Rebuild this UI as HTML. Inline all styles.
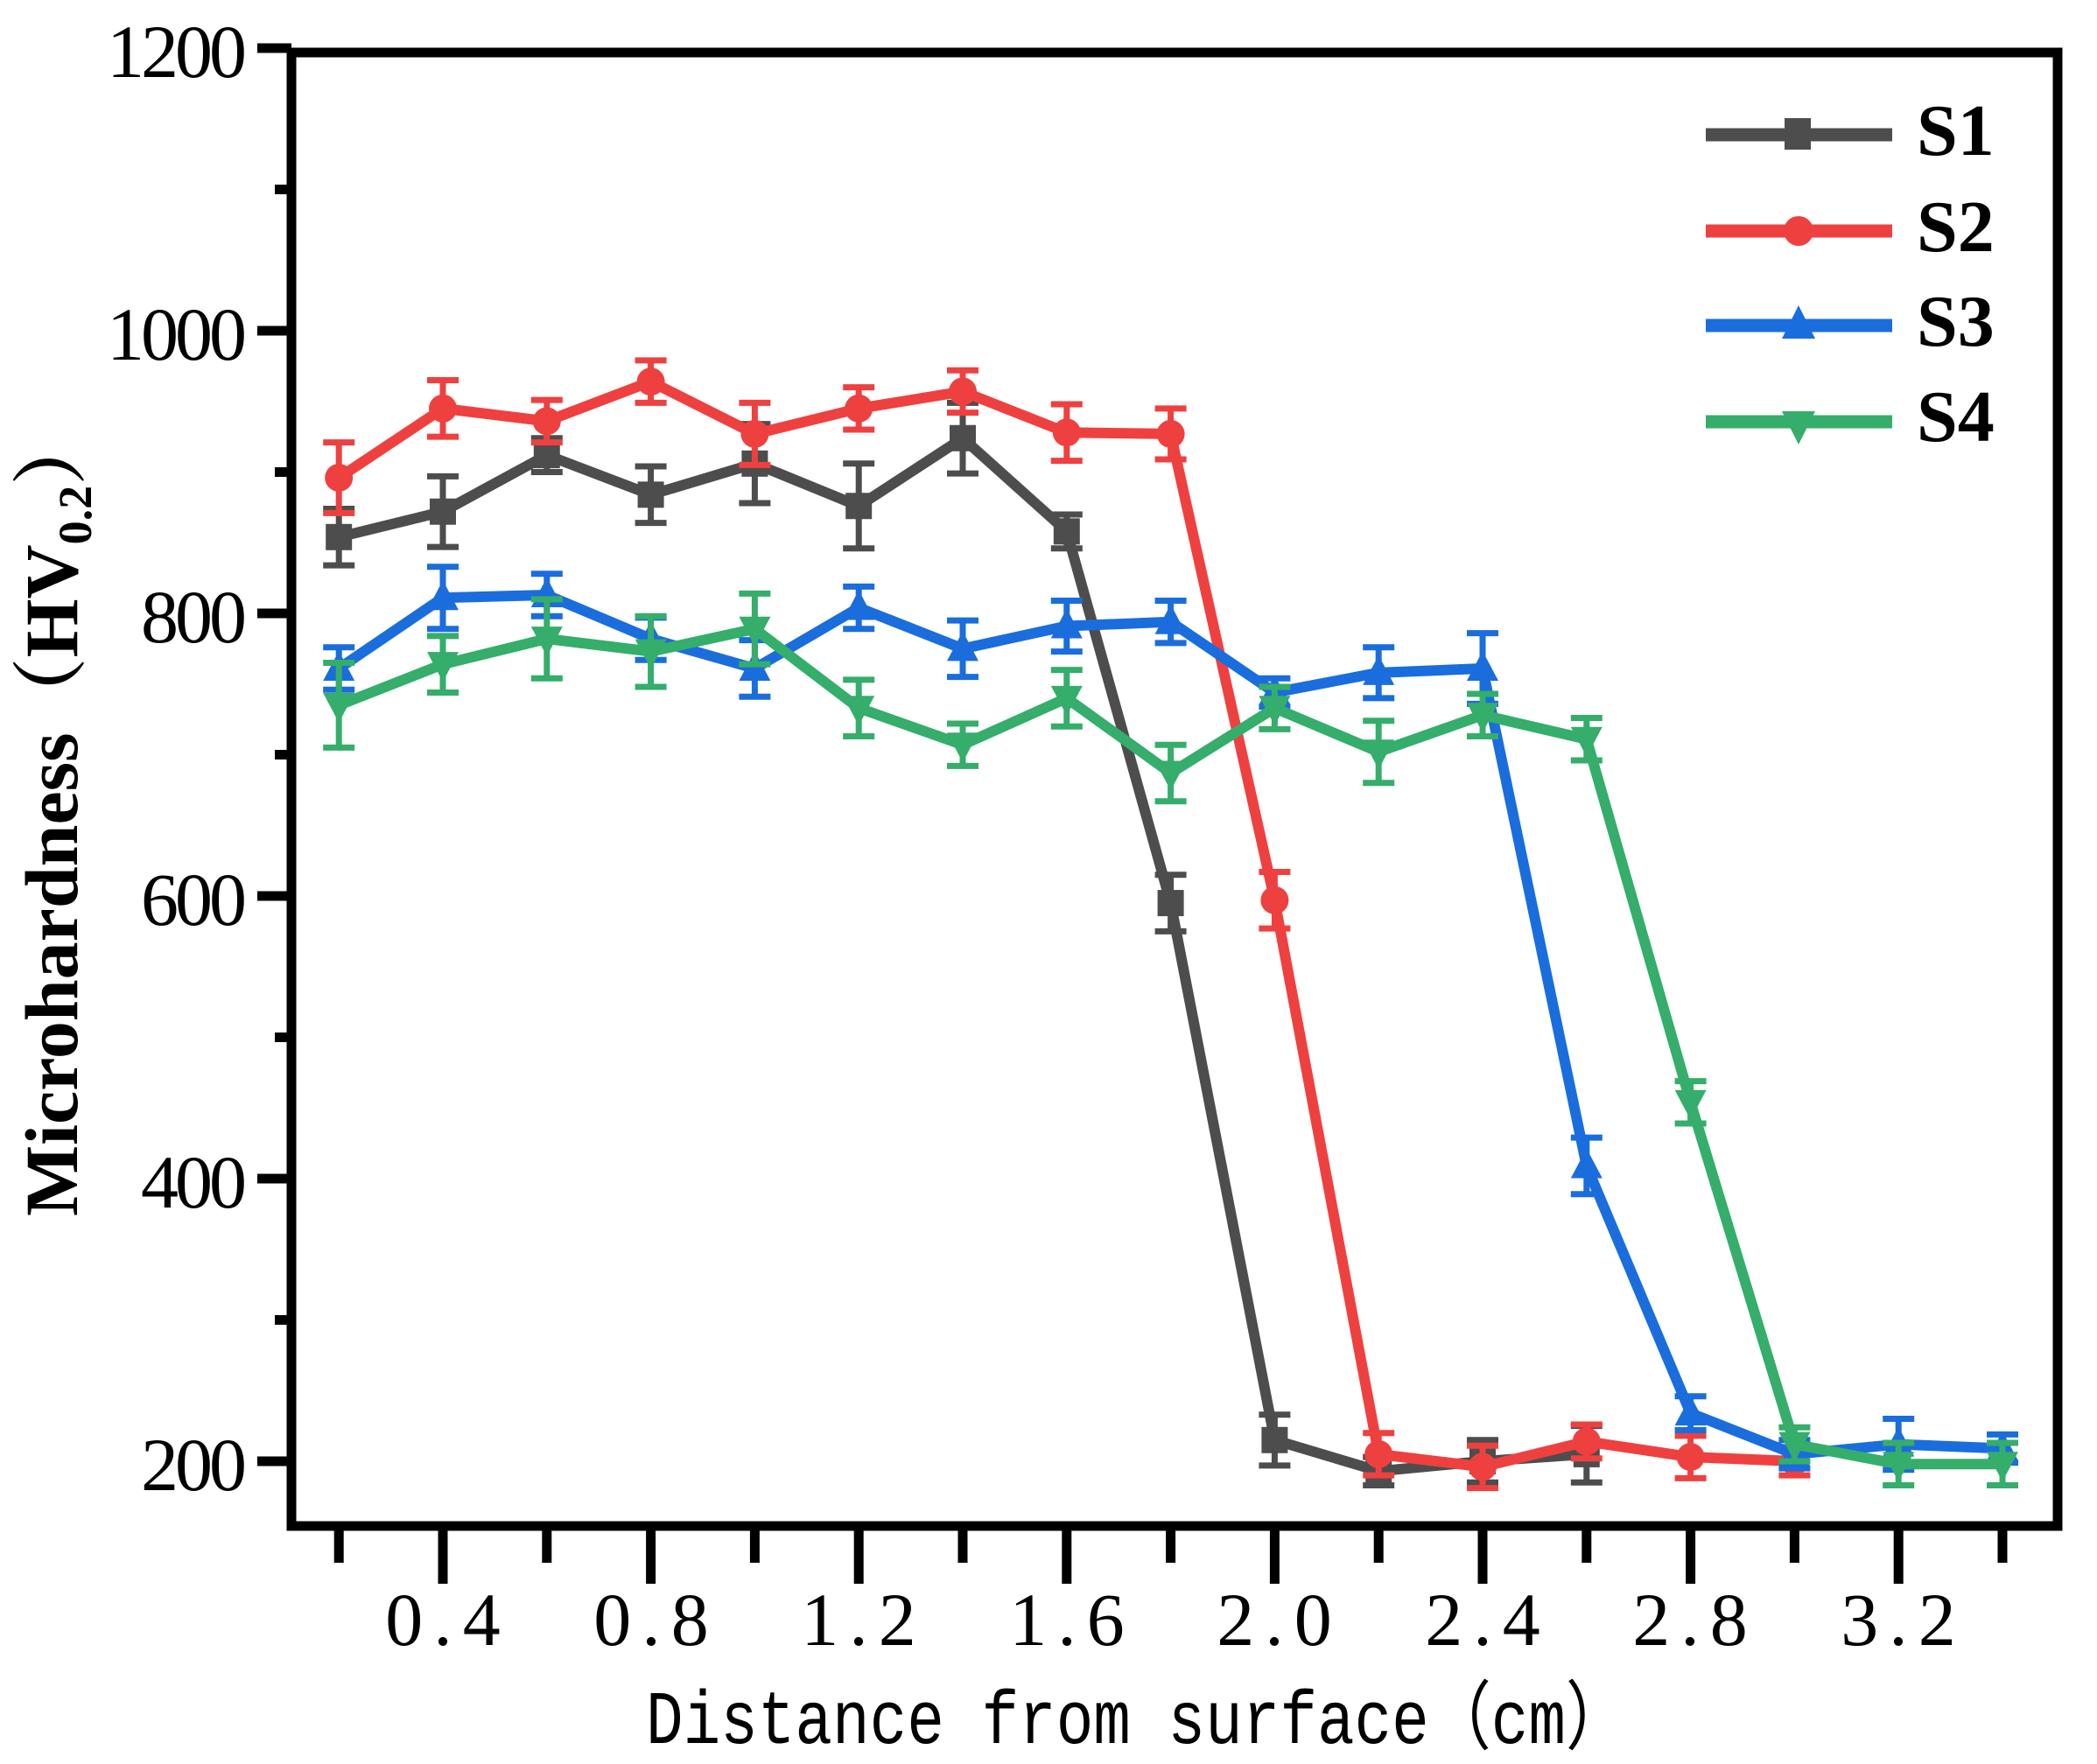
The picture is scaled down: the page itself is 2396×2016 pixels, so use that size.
<!DOCTYPE html>
<html><head><meta charset="utf-8"><style>
html,body{margin:0;padding:0;background:#fff;}
svg{display:block;}
</style></head><body>
<svg id="s" width="2396" height="2016" viewBox="0 0 2396 2016" xmlns="http://www.w3.org/2000/svg">
<rect width="2396" height="2016" fill="#fff"/>
<g id="data"></g>
<rect x="333" y="60" width="2018" height="1684" fill="none" stroke="#000" stroke-width="11"/>
<g stroke="#000" stroke-width="11" id="ticks"></g>
<g font-family="Liberation Serif, serif" font-size="86" fill="#000" text-anchor="end" letter-spacing="-4">
<text x="278" y="88">1200</text>
<text x="278" y="411">1000</text>
<text x="278" y="734">800</text>
<text x="278" y="1057">600</text>
<text x="278" y="1380">400</text>
<text x="278" y="1703">200</text>
</g>
<g font-family="Liberation Serif, serif" font-size="86" fill="#000" text-anchor="middle" letter-spacing="12">
<text x="512" y="1880">0.4</text>
<text x="750" y="1880">0.8</text>
<text x="987" y="1880">1.2</text>
<text x="1225" y="1880">1.6</text>
<text x="1462" y="1880">2.0</text>
<text x="1700" y="1880">2.4</text>
<text x="1937" y="1880">2.8</text>
<text x="2175" y="1880">3.2</text>
</g>
<text x="738" y="1992" font-family="Liberation Mono, monospace" font-size="86" textLength="1122" lengthAdjust="spacingAndGlyphs" fill="#000">Distance from surface（cm）</text>
<text transform="translate(88,1390) rotate(-90)" font-family="Liberation Serif, 'Noto Serif CJK SC', serif" font-weight="bold" font-size="86" fill="#000">Microhardness（HV<tspan font-size="54" dy="16">0.2</tspan><tspan dy="-16">）</tspan></text>
<g stroke-width="15">
<line x1="1949" y1="154" x2="2162" y2="154" stroke="#4d4d4d"/>
<line x1="1949" y1="264" x2="2162" y2="264" stroke="#ef4040"/>
<line x1="1949" y1="372" x2="2162" y2="372" stroke="#1a6ddd"/>
<line x1="1949" y1="482" x2="2162" y2="482" stroke="#34ae6a"/>
</g>
<rect x="2039" y="135" width="30" height="36" fill="#4d4d4d"/>
<circle cx="2055" cy="264" r="17" fill="#ef4040"/>
<polygon points="2055,349 2036,387 2074,387" fill="#1a6ddd"/>
<polygon points="2036,470 2074,470 2055,508" fill="#34ae6a"/>
<g font-family="Liberation Serif, serif" font-weight="bold" font-size="84" fill="#000">
<text x="2190" y="177">S1</text>
<text x="2190" y="287">S2</text>
<text x="2190" y="395">S3</text>
<text x="2190" y="504">S4</text>
</g>
</svg>
<script>
(function(){
var NS="http://www.w3.org/2000/svg";
function X(d){return 506+(d-0.4)*594;}
function Y(v){return 1670-(v-200)*1.615;}
var t=document.getElementById('ticks');
function ln(p,x1,y1,x2,y2){var l=document.createElementNS(NS,'line');l.setAttribute('x1',x1);l.setAttribute('y1',y1);l.setAttribute('x2',x2);l.setAttribute('y2',y2);p.appendChild(l);return l;}
for(var v=200;v<=1200;v+=100){var y=Y(v);ln(t,(v%200==0)?294:314,y,333,y);}
for(var i=1;i<=17;i++){var d=i*0.2;var x=X(d);ln(t,x,1744,x,(i%2==0)?1810:1786);}
var S=[
{c:"#4d4d4d",m:"sq",v:[854,872,912,884,906,876,924,858,595,215,193,200,205],e:[20,25,12,20,28,30,25,12,20,18,10,15,20]},
{c:"#ef4040",m:"ci",v:[896,945,936,964,927,945,957,928,927,597,205,196,214,203,200],e:[25,20,15,15,22,15,15,20,18,20,15,15,12,15,10]},
{c:"#1a6ddd",m:"up",v:[761,811,813,782,761,804,775,791,794,744,758,761,409,234,205,212,209],e:[15,22,15,15,20,15,20,18,15,10,18,25,20,12,10,18,10]},
{c:"#34ae6a",m:"dn",v:[735,764,782,773,789,733,707,740,687,733,702,728,711,454,212,198,198],e:[30,20,28,25,25,20,15,20,20,15,22,15,15,15,12,15,15]}
];
var g=document.getElementById('data');
S.forEach(function(s){
  var pts=s.v.map(function(v,i){return X(0.2*(i+1))+','+Y(v);}).join(' ');
  var pl=document.createElementNS(NS,'polyline');pl.setAttribute('points',pts);pl.setAttribute('fill','none');pl.setAttribute('stroke',s.c);pl.setAttribute('stroke-width','12');pl.setAttribute('stroke-linejoin','round');g.appendChild(pl);
  s.v.forEach(function(v,i){
    var x=X(0.2*(i+1)),y=Y(v),e=s.e[i]*1.615;
    var gg=document.createElementNS(NS,'g');gg.setAttribute('stroke',s.c);gg.setAttribute('stroke-width','7');g.appendChild(gg);
    ln(gg,x,y-e,x,y+e);ln(gg,x-18,y-e,x+18,y-e);ln(gg,x-18,y+e,x+18,y+e);
    var m;
    if(s.m=="sq"){m=document.createElementNS(NS,'rect');m.setAttribute('x',x-15);m.setAttribute('y',y-15);m.setAttribute('width',30);m.setAttribute('height',30);}
    else if(s.m=="ci"){m=document.createElementNS(NS,'circle');m.setAttribute('cx',x);m.setAttribute('cy',y);m.setAttribute('r',16);}
    else if(s.m=="up"){m=document.createElementNS(NS,'polygon');m.setAttribute('points',x+','+(y-20)+' '+(x-18)+','+(y+14)+' '+(x+18)+','+(y+14));}
    else {m=document.createElementNS(NS,'polygon');m.setAttribute('points',(x-18)+','+(y-14)+' '+(x+18)+','+(y-14)+' '+x+','+(y+20));}
    m.setAttribute('fill',s.c);g.appendChild(m);
  });
});
})();
</script>
</body></html>
